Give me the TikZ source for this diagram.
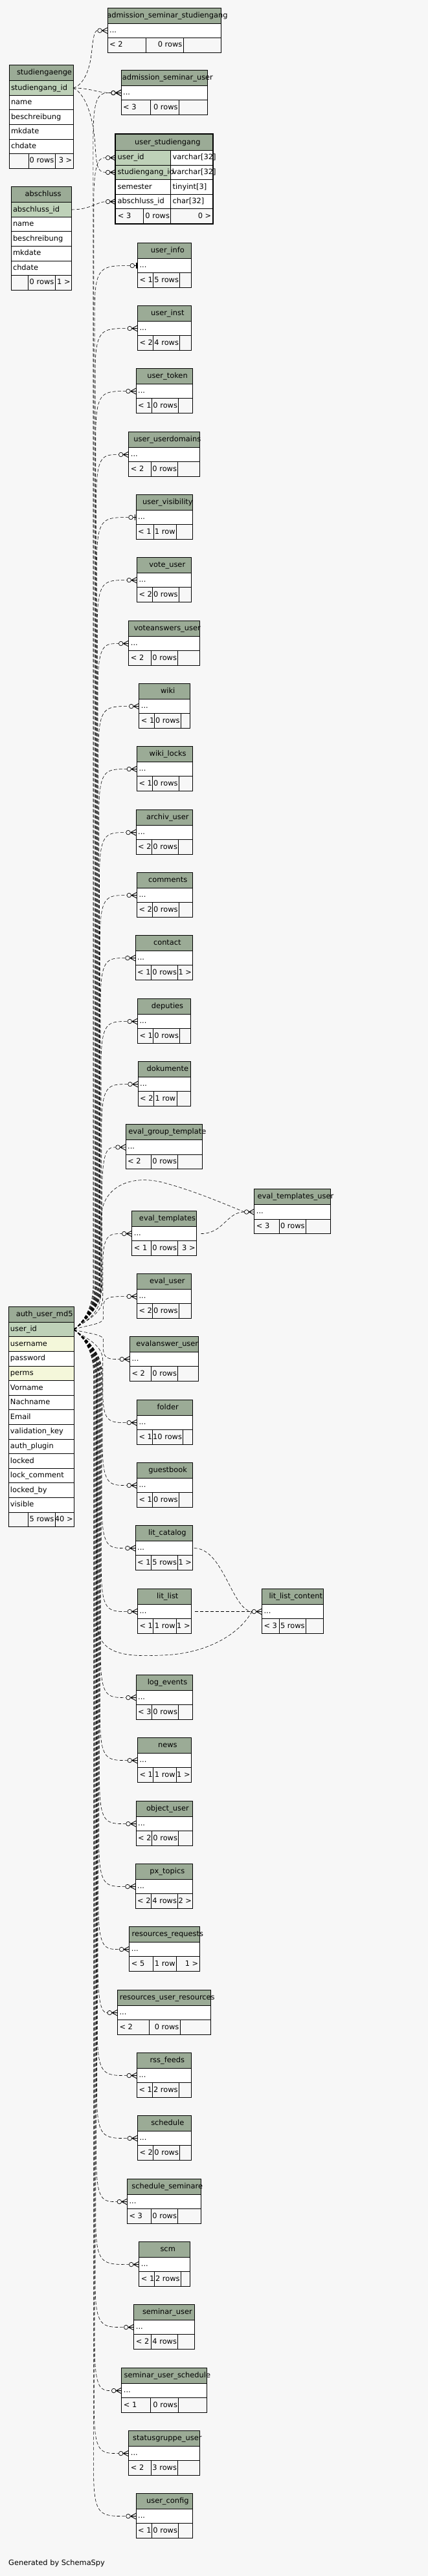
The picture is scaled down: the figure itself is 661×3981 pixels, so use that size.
\documentclass[tikz,border=0pt]{standalone}
\usepackage{fontspec}
\setmainfont{DejaVu Sans}
\usepackage{tikz}
\usetikzlibrary{positioning}
\definecolor{HeadGreen}{HTML}{9BAB96}
\definecolor{KeyGreen}{HTML}{BED1B8}
\definecolor{IdxYellow}{HTML}{F4F7DA}
\definecolor{PageGray}{HTML}{F7F7F7}

% implied key from auth_user_md5.user_id: fan out, along the bundle, then into the child row
\newcommand\authlink[3]{%
  \pgfmathsetmacro\dd{#2-2054.6}%
  \pgfmathsetmacro\sg{ifthenelse(\dd<0,-1,1)}%
  \pgfmathsetmacro\kk{min(70,abs(\dd)/3)}%
  \pgfmathsetmacro\bx{160-16*(abs(\dd)/1900)}%
  \pgfmathsetmacro\ya{2054.6+(\sg)*\kk}%
  \pgfmathsetmacro\yh{2054.6+0.45*(\sg)*\kk}%
  \pgfmathsetmacro\yf{2054.6+(\sg)*min(12,\kk/3)}%
  \pgfmathsetmacro\yb{#2-(\sg)*\kk}%
  \draw[fk] (auth-uid.east) .. controls (128,\yf) and (\bx,\yh) .. (\bx,\ya) -- (\bx,\yb) .. controls (\bx,#2) and (\bx+10,#2) .. ([xshift=-#3pt]#1.west);%
}

\begin{document}
\begin{tikzpicture}[x=1pt, y=-1pt,
    font=\fontsize{11.4}{13}\selectfont,
    hdr/.style={draw, fill=HeadGreen, minimum height=24pt, inner sep=0pt, outer sep=0pt, line width=0.9pt},
    cell/.style={draw, fill=white, minimum height=22.5pt, inner sep=0pt, outer sep=0pt, line width=0.9pt},
    foot/.style={draw, fill=PageGray, minimum height=22.5pt, inner sep=0pt, outer sep=0pt, line width=0.9pt},
    fld/.style={draw, fill=white, text width=#1, align=left, minimum height=22.6pt, inner xsep=3pt, inner ysep=0pt, outer sep=0pt, text height=8.5pt, text depth=2.5pt, line width=0.9pt},
    key/.style={fill=KeyGreen},
    idx/.style={fill=IdxYellow},
    txt/.style={inner sep=0pt, text height=8.5pt, text depth=2.5pt},
    ttl/.style={inner sep=0pt, text height=8.5pt, text depth=2.5pt},
    fk/.style={draw, line width=0.6pt, dash pattern=on 5pt off 3pt},
    pics/crowodot/.style={code={
      \draw[line width=0.7pt] (-12,0) circle[radius=3.3];
      \draw[line width=0.9pt] (-8.7,0) -- (0,0) (-8.5,0) -- (0,-4.5) (-8.5,0) -- (0,4.5);
    }},
    pics/teeodot/.style={code={
      \draw[line width=0.7pt] (-8,0) circle[radius=3.3];
      \draw[line width=0.9pt] (-4.7,0) -- (0,0);
      \draw[line width=1.6pt] (-1.5,-4.5) -- (-1.5,4.5);
    }}
]
\useasboundingbox (0,0) rectangle (661,3981);
\fill[PageGray] (0,0) rectangle (661,3981);

% studiengaenge
\node[hdr, minimum width=99pt, anchor=north west] (stud-h) at (14,100.7) {};
\node[ttl] (stud-t) at ([xshift=5pt]stud-h.center) {studiengaenge};
\node[fld=93pt, key, below=0pt of stud-h] (stud-sid) {studiengang\_id};
\node[fld=93pt, below=0pt of stud-sid] (stud-name) {name};
\node[fld=93pt, below=0pt of stud-name] (stud-desc) {beschreibung};
\node[fld=93pt, below=0pt of stud-desc] (stud-mk) {mkdate};
\node[fld=93pt, below=0pt of stud-mk] (stud-ch) {chdate};
\node[foot, minimum width=30pt, anchor=north west] (stud-f1) at (stud-ch.south west) {};
\node[foot, minimum width=41pt, right=0pt of stud-f1] (stud-f2) {};
\node[foot, minimum width=28pt, right=0pt of stud-f2] (stud-f3) {};
\node[txt, anchor=east] (stud-rw) at ([xshift=-1.5pt]stud-f2.east) {0 rows};
\node[txt, anchor=east] (stud-gt) at ([xshift=-1.5pt]stud-f3.east) {3 >};

% abschluss
\node[hdr, minimum width=93.3pt, anchor=north west] (absch-h) at (17,288.7) {};
\node[ttl] (absch-t) at ([xshift=3pt]absch-h.center) {abschluss};
\node[fld=87.3pt, key, below=0pt of absch-h] (absch-aid) {abschluss\_id};
\node[fld=87.3pt, below=0pt of absch-aid] (absch-name) {name};
\node[fld=87.3pt, below=0pt of absch-name] (absch-desc) {beschreibung};
\node[fld=87.3pt, below=0pt of absch-desc] (absch-mk) {mkdate};
\node[fld=87.3pt, below=0pt of absch-mk] (absch-ch) {chdate};
\node[foot, minimum width=26.7pt, anchor=north west] (absch-f1) at (absch-ch.south west) {};
\node[foot, minimum width=41.3pt, right=0pt of absch-f1] (absch-f2) {};
\node[foot, minimum width=25.3pt, right=0pt of absch-f2] (absch-f3) {};
\node[txt, anchor=east] (absch-rw) at ([xshift=-1.5pt]absch-f2.east) {0 rows};
\node[txt, anchor=east] (absch-gt) at ([xshift=-1.5pt]absch-f3.east) {1 >};

% user_studiengang (focus table, thick frame)
\node[hdr, minimum width=149.3pt, minimum height=24.8pt, anchor=north west] (us-h) at (178.7,207.7) {};
\node[ttl] (us-t) at ([xshift=5.5pt]us-h.center) {user\_studiengang};
\node[fld=58.3pt, anchor=north west] (us-uidt) at (263.7,232.5) {varchar[32]};
\node[fld=58.3pt, below=0pt of us-uidt] (us-sidt) {varchar[32]};
\node[fld=58.3pt, below=0pt of us-sidt] (us-semt) {tinyint[3]};
\node[fld=58.3pt, below=0pt of us-semt] (us-aidt) {char[32]};
\node[fld=79pt, key, left=0pt of us-uidt] (us-uid) {user\_id};
\node[fld=79pt, key, left=0pt of us-sidt] (us-sid) {studiengang\_id};
\node[fld=79pt, left=0pt of us-semt] (us-sem) {semester};
\node[fld=79pt, left=0pt of us-aidt] (us-aid) {abschluss\_id};
\node[foot, minimum width=43pt, anchor=north west] (us-f1) at (us-aid.south west) {};
\node[foot, minimum width=42pt, right=0pt of us-f1] (us-f2) {};
\node[foot, minimum width=64.3pt, right=0pt of us-f2] (us-f3) {};
\node[txt, anchor=west] (us-lt) at ([xshift=3pt]us-f1.west) {< 3};
\node[txt, anchor=east] (us-rw) at ([xshift=-1.5pt]us-f2.east) {0 rows};
\node[txt, anchor=east] (us-gt) at ([xshift=-1.5pt]us-f3.east) {0 >};
\draw[line width=2pt] (177.7,206.7) rectangle (329,346);

% auth_user_md5
\node[hdr, minimum width=101.3pt, anchor=north west] (auth-h) at (13,2019.3) {};
\node[ttl] (auth-t) at ([xshift=5pt]auth-h.center) {auth\_user\_md5};
\node[fld=95.3pt, key, below=0pt of auth-h] (auth-uid) {user\_id};
\node[fld=95.3pt, idx, below=0pt of auth-uid] (auth-un) {username};
\node[fld=95.3pt, below=0pt of auth-un] (auth-pw) {password};
\node[fld=95.3pt, idx, below=0pt of auth-pw] (auth-perms) {perms};
\node[fld=95.3pt, below=0pt of auth-perms] (auth-vn) {Vorname};
\node[fld=95.3pt, below=0pt of auth-vn] (auth-nn) {Nachname};
\node[fld=95.3pt, below=0pt of auth-nn] (auth-mail) {Email};
\node[fld=95.3pt, below=0pt of auth-mail] (auth-vk) {validation\_key};
\node[fld=95.3pt, below=0pt of auth-vk] (auth-ap) {auth\_plugin};
\node[fld=95.3pt, below=0pt of auth-ap] (auth-lk) {locked};
\node[fld=95.3pt, below=0pt of auth-lk] (auth-lc) {lock\_comment};
\node[fld=95.3pt, below=0pt of auth-lc] (auth-lb) {locked\_by};
\node[fld=95.3pt, below=0pt of auth-lb] (auth-vis) {visible};
\node[foot, minimum width=30.7pt, anchor=north west] (auth-f1) at (auth-vis.south west) {};
\node[foot, minimum width=41.3pt, right=0pt of auth-f1] (auth-f2) {};
\node[foot, minimum width=29.3pt, right=0pt of auth-f2] (auth-f3) {};
\node[txt, anchor=east] (auth-rw) at ([xshift=-1.5pt]auth-f2.east) {5 rows};
\node[txt, anchor=east] (auth-gt) at ([xshift=-1.5pt]auth-f3.east) {40 >};

% collapsed child tables: id / left / right / top / col1 / col2 / title / < / rows / > / link (0 none, 1 crow, 2 tee)
\foreach \nm/\xa/\xb/\yt/\ca/\cb/\ttl/\tlt/\rw/\tgt/\lk in {
  assstud/166/341/12/225/283/admission\_seminar\_studiengang/< 2/0 rows/{}/0,
  asuser/187/320.7/108.3/232/276.3/admission\_seminar\_user/< 3/0 rows/{}/1,
  uinfo/212.3/295.3/375.3/236.7/277.7/user\_info/< 1/5 rows/{}/2,
  uinst/212.3/295.3/472.3/236.7/277.7/user\_inst/< 2/4 rows/{}/1,
  utoken/210/297/569.3/234.7/275.7/user\_token/< 1/0 rows/{}/1,
  udomains/198.7/308/667.3/233.7/274.7/user\_userdomains/< 2/0 rows/{}/1,
  uvis/210/297.7/764.3/237/272.3/user\_visibility/< 1/1 row/{}/2,
  voteuser/211.3/295.3/861.3/235.3/276.3/vote\_user/< 2/0 rows/{}/1,
  voteans/198.7/308/959.3/233.7/274.7/voteanswers\_user/< 2/0 rows/{}/1,
  wiki/214.7/293.7/1056.3/238.3/279.3/wiki/< 1/0 rows/{}/1,
  wikilocks/211.3/297/1153.3/235.3/276.3/wiki\_locks/< 1/0 rows/{}/1,
  archiv/210/297.7/1251.3/234.7/275.7/archiv\_user/< 2/0 rows/{}/1,
  comments/211.3/297/1348.3/235.3/276.3/comments/< 2/0 rows/{}/1,
  contact/209/297.7/1445.3/233.7/274.7/contact/< 1/0 rows/1 >/1,
  deputies/212.3/294.7/1543.3/236.7/277.7/deputies/< 1/0 rows/{}/1,
  dokumente/213/294.7/1640.3/237.7/273/dokumente/< 2/1 row/{}/1,
  evalgroup/194/312.7/1737.7/233.7/274.7/eval\_group\_template/< 2/0 rows/{}/1,
  evaltpl/203.7/303.3/1871.3/233.7/274.7/eval\_templates/< 1/0 rows/3 >/1,
  evaltpluser/392.7/510.3/1837.7/431.3/472.3/eval\_templates\_user/< 3/0 rows/{}/0,
  evaluser/211.3/295.3/1968.3/235.3/276.3/eval\_user/< 2/0 rows/{}/1,
  evalans/200.3/306.3/2065.3/233.7/274.7/evalanswer\_user/< 2/0 rows/{}/1,
  folder/211.3/297/2163.3/235.3/282.7/folder/< 1/10 rows/{}/1,
  guestbook/211.3/297/2260.3/235.3/276.3/guestbook/< 1/0 rows/{}/1,
  litcat/209/297.7/2357.3/233.7/274.7/lit\_catalog/< 1/5 rows/1 >/1,
  litlist/212.3/295.3/2455.3/236.7/272.3/lit\_list/< 1/1 row/1 >/1,
  litcontent/404.3/499.3/2455.3/431.3/472.3/lit\_list\_content/< 3/5 rows/{}/0,
  logevents/210/297/2588.3/234.7/275.7/log\_events/< 3/0 rows/{}/1,
  news/212.3/295.3/2685.3/236.7/272.3/news/< 1/1 row/1 >/1,
  objuser/210/297.7/2783.3/234.7/275.7/object\_user/< 2/0 rows/{}/1,
  pxtopics/209/297.7/2880.3/233.7/274.7/px\_topics/< 2/4 rows/2 >/1,
  resreq/199.7/308/2977.3/236.7/272.3/resources\_requests/< 5/1 row/1 >/1,
  resuser/181.3/325.3/3075.3/230.3/278/resources\_user\_resources/< 2/0 rows/{}/1,
  rss/211.3/295.3/3172.3/235.3/276.3/rss\_feeds/< 1/2 rows/{}/1,
  schedule/212.3/295.3/3269.3/236.7/277.7/schedule/< 2/0 rows/{}/1,
  schedsem/196.3/310.3/3367.3/233.7/274.7/schedule\_seminare/< 3/0 rows/{}/1,
  scm/214.7/293.7/3464.3/238.3/279.3/scm/< 1/2 rows/{}/1,
  semuser/206.7/300/3561.3/233.7/274.7/seminar\_user/< 2/4 rows/{}/1,
  semsched/187.7/319/3659.3/232/275.7/seminar\_user\_schedule/< 1/0 rows/{}/1,
  statusgr/198.7/308/3756.3/233.7/274.7/statusgruppe\_user/< 2/3 rows/{}/1,
  uconfig/210/297.7/3853.3/234.7/275.7/user\_config/< 1/0 rows/{}/1}{
  \pgfmathsetmacro\yc{\yt+35.25}
  \node[hdr, minimum width={(\xb-\xa)*1pt}, anchor=north west] (\nm-h) at (\xa,\yt) {};
  \node[ttl] (\nm-t) at ([xshift=5pt]\nm-h.center) {\ttl};
  \node[cell, minimum width={(\xb-\xa)*1pt}, anchor=north west] (\nm) at (\xa,\yt+24) {};
  \node[txt, anchor=west] (\nm-d) at ([xshift=3pt]\nm.west) {...};
  \node[foot, minimum width={(\ca-\xa)*1pt}, anchor=north west] (\nm-f1) at (\xa,\yt+46.5) {};
  \node[foot, minimum width={(\cb-\ca)*1pt}, anchor=north west] (\nm-f2) at (\ca,\yt+46.5) {};
  \node[foot, minimum width={(\xb-\cb)*1pt}, anchor=north west] (\nm-f3) at (\cb,\yt+46.5) {};
  \node[txt, anchor=west] (\nm-lt) at ([xshift=3pt]\nm-f1.west) {\tlt};
  \node[txt, anchor=east] (\nm-rw) at ([xshift=-1.5pt]\nm-f2.east) {\rw};
  \node[txt, anchor=east] (\nm-gt) at ([xshift=-1.5pt]\nm-f3.east) {\tgt};
  \ifnum\lk=1 \authlink{\nm}{\yc}{15.3}\pic at (\nm.west) {crowodot};\fi
  \ifnum\lk=2 \authlink{\nm}{\yc}{11.3}\pic at (\nm.west) {teeodot};\fi
}

% user_studiengang.user_id
\authlink{us-uid}{243.8}{15.3}
\pic at (us-uid.west) {crowodot};

% studiengaenge / abschluss keys
\draw[fk] (stud-sid.east) .. controls (128,132) and (138,110) .. (141,85) .. controls (144,60) and (145,47.25) .. ([xshift=-15.3pt]assstud.west);
\draw[fk] (stud-sid.east) .. controls (140,136) and (150,143.5) .. ([xshift=-15.3pt]asuser.west);
\draw[fk] (stud-sid.east) .. controls (135,146) and (145,190) .. (147,225) .. controls (149,255) and (150,266.6) .. ([xshift=-15.3pt]us-sid.west);
\draw[fk] (absch-aid.east) .. controls (140,324) and (150,311.6) .. ([xshift=-15.3pt]us-aid.west);
\pic at (assstud.west) {crowodot};
\pic at (asuser.west) {crowodot};
\pic at (us-sid.west) {crowodot};
\pic at (us-aid.west) {crowodot};

% eval_templates_user
\draw[fk] (auth-uid.east) .. controls (128,2042) and (156,2035) .. (156,1995) -- (156,1885) .. controls (156,1835) and (200,1815) .. (250,1827) .. controls (300,1840) and (350,1862) .. ([xshift=-15.3pt]evaltpluser.west);
\draw[fk] ([xshift=7pt]evaltpl.east) .. controls (345,1906.5) and (350,1873) .. ([xshift=-15.3pt]evaltpluser.west);
\pic at (evaltpluser.west) {crowodot};

% lit_list_content
\draw[fk] ([xshift=2pt]litcat.east) .. controls (345,2392.5) and (358,2488) .. ([xshift=-15.3pt]litcontent.west);
\draw[fk] ([xshift=6pt]litlist.east) -- ([xshift=-15.3pt]litcontent.west);
\draw[fk] (auth-uid.east) .. controls (128,2067) and (150,2075) .. (150,2115) -- (150,2510) .. controls (152,2560) and (200,2560) .. (250,2558) .. controls (320,2556) and (370,2525) .. ([xshift=-15.3pt]litcontent.west);
\pic at (litcontent.west) {crowodot};

\node[txt, anchor=base west] (gen) at (13,3964) {Generated by SchemaSpy};
\end{tikzpicture}
\end{document}
